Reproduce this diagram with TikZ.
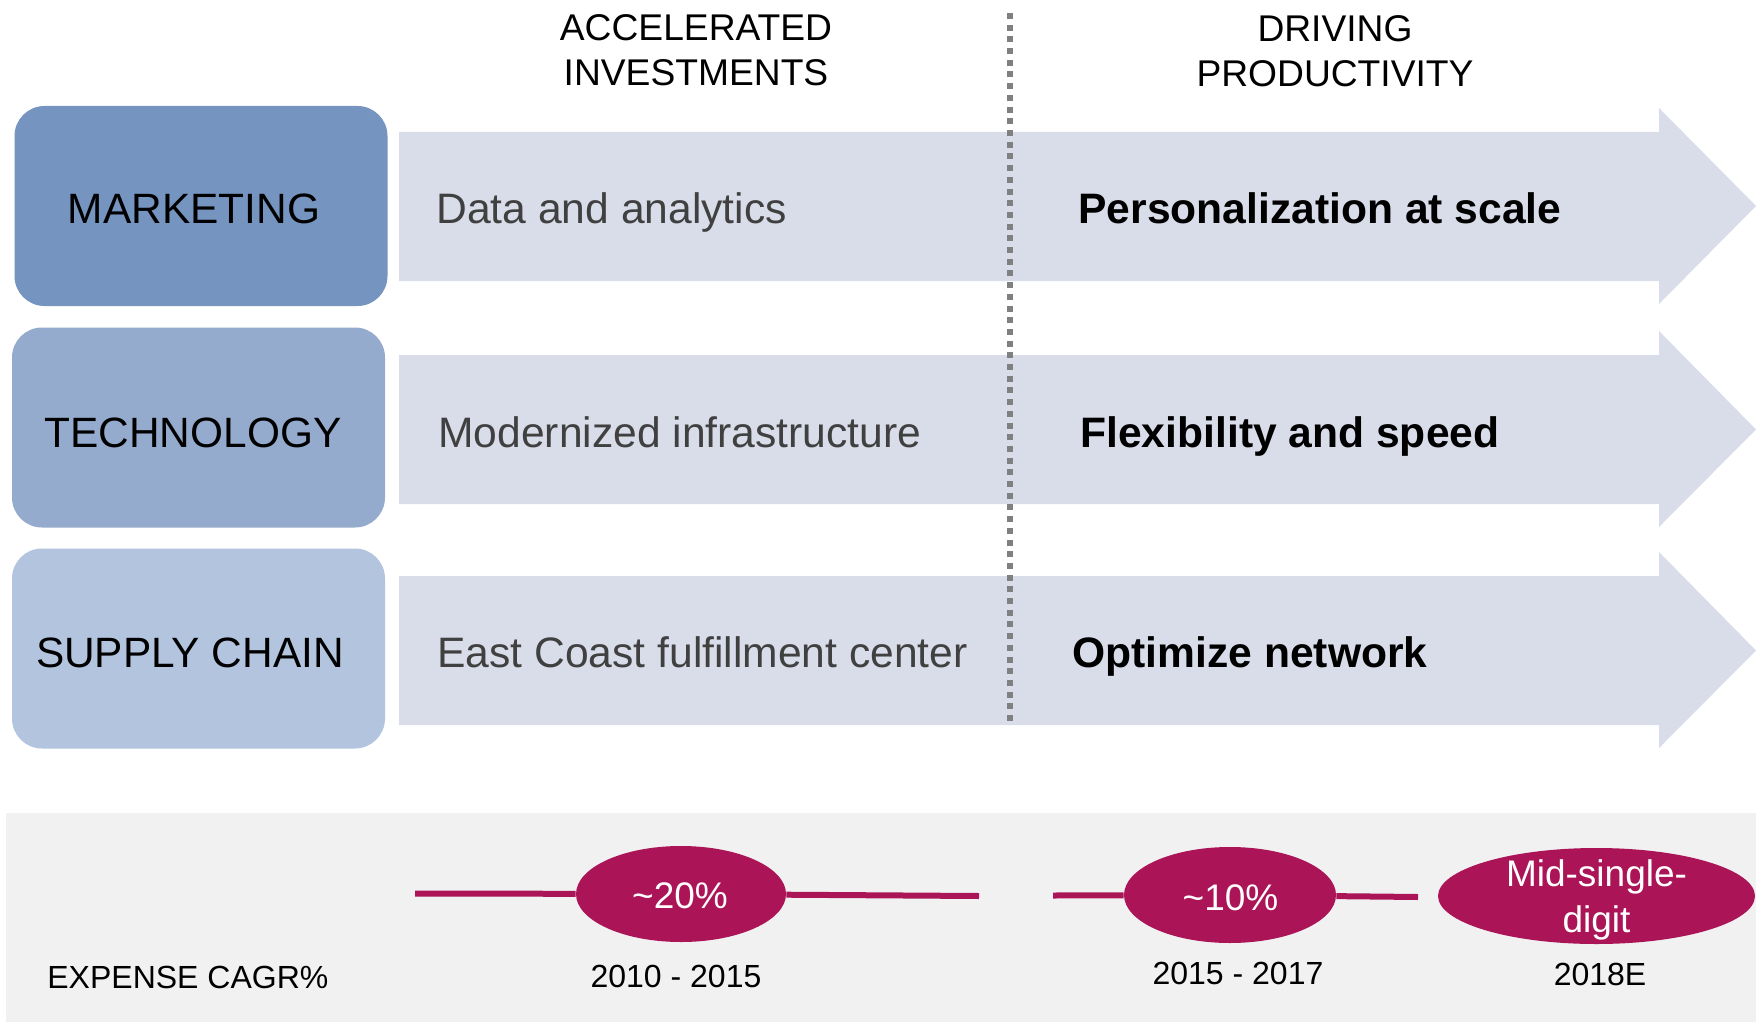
\documentclass[tikz,border=0pt]{standalone}
\usepackage{fontspec}
\setmainfont{Liberation Sans}
\usetikzlibrary{shapes.geometric}
\definecolor{mkblue}{RGB}{117,148,191}
\definecolor{techblue}{RGB}{149,171,205}
\definecolor{scblue}{RGB}{178,196,222}
\definecolor{arrowfill}{RGB}{217,221,233}
\definecolor{bandgrey}{RGB}{241,241,241}
\definecolor{berry}{RGB}{171,21,88}
\definecolor{dotgrey}{RGB}{128,128,128}
\definecolor{txtgrey}{RGB}{64,64,64}
\begin{document}
\begin{tikzpicture}[x=0.5pt,y=-0.5pt,
  catbox/.style={rounded corners=15pt, minimum width=186.5pt, minimum height=100pt, inner sep=0pt},
  catlabel/.style={anchor=base, inner sep=0pt, text=black, font=\fontsize{21.2}{25}\selectfont},
  head/.style={anchor=base, inner sep=0pt, font=\fontsize{18.6}{22}\selectfont},
  invtxt/.style={anchor=base west, inner sep=0pt, text=txtgrey, font=\fontsize{21.3}{25}\selectfont},
  prodtxt/.style={anchor=base west, inner sep=0pt, text=black, font=\fontsize{21.3}{25}\selectfont\bfseries},
  bandtxt/.style={anchor=base, inner sep=0pt, font=\fontsize{16}{19}\selectfont},
  rate/.style={ellipse, fill=berry, inner sep=0pt, minimum height=48pt},
  ratetxt/.style={inner sep=0pt, text=white, font=\fontsize{18.5}{23}\selectfont},
  cagr/.style={draw=berry, line width=3pt},
  dotline/.style={draw=dotgrey, line width=3pt, dash pattern=on 3pt off 2.85pt},
  bigarrow/.style={fill=arrowfill}
]
\useasboundingbox (0,0) rectangle (1756,1022);

% column headings
\node[head] (h1a) at (696,41) {ACCELERATED};
\node[head] (h1b) at (696,86) {INVESTMENTS};
\node[head] (h2a) at (1335,42) {DRIVING};
\node[head] (h2b) at (1335,87) {PRODUCTIVITY};

% wide arrows behind each row
\fill[bigarrow] (399,132) -- (1659,132) -- (1659,108) -- (1756,206) -- (1659,304) -- (1659,281) -- (399,281) -- cycle;
\fill[bigarrow] (399,355) -- (1659,355) -- (1659,331) -- (1756,429.5) -- (1659,527) -- (1659,504) -- (399,504) -- cycle;
\fill[bigarrow] (399,576) -- (1659,576) -- (1659,552) -- (1756,650.5) -- (1659,748) -- (1659,725) -- (399,725) -- cycle;

% category boxes and their labels
\node[catbox, fill=mkblue] (mk) at (201,206) {};
\node[catbox, fill=techblue] (tech) at (198.5,427.5) {};
\node[catbox, fill=scblue] (sc) at (198.5,648.5) {};
\node[catlabel] (mkl) at (194,223) {MARKETING};
\node[catlabel] (techl) at (193,447) {TECHNOLOGY};
\node[catlabel] (scl) at (190,667) {SUPPLY CHAIN};

% investment texts
\node[invtxt] (inv1) at (436,223) {Data and analytics};
\node[invtxt] (inv2) at (438,447) {Modernized infrastructure};
\node[invtxt] (inv3) at (437,667) {East Coast fulfillment center};

% productivity texts
\node[prodtxt] (pr1) at (1078,223) {Personalization at scale};
\node[prodtxt] (pr2) at (1080,447) {Flexibility and speed};
\node[prodtxt] (pr3) at (1072,667) {Optimize network};

% divider between the two phases
\coordinate (dtop) at (1010,13);
\coordinate (dbot) at (1010,726);
\draw[dotline] (dtop) -- (dbot);

% expense band
\fill[bandgrey] (6,813) rectangle (1756,1022);

\node[bandtxt, anchor=base west] (exp) at (47,988) {EXPENSE CAGR\%};
\node[bandtxt] (y1) at (676,987) {2010 - 2015};
\node[bandtxt] (y2) at (1238,984) {2015 - 2017};
\node[bandtxt] (y3) at (1600,985) {2018E};

\node[rate, minimum width=105pt] (e20) at (681,894) {};
\node[rate, minimum width=106pt] (e10) at (1230,895) {};
\node[rate, minimum width=158.5pt] (emid) at (1596.5,896) {};
\node[ratetxt, anchor=base] (t20) at (680,908) {\textasciitilde 20\%};
\node[ratetxt, anchor=base] (t10) at (1230.5,910) {\textasciitilde 10\%};
\node[ratetxt, align=center] (tmid) at (1596.5,900) {Mid-single-\\digit};

\coordinate (l1a) at (415,893.5);
\coordinate (l1b) at (979,896);
\coordinate (l2a) at (1053,895.5);
\coordinate (l2b) at (1418,897);
\draw[cagr] (l1a) -- (e20);
\draw[cagr] (e20) -- (l1b);
\draw[cagr] (l2a) -- (e10);
\draw[cagr] (e10) -- (l2b);
\end{tikzpicture}
\end{document}
